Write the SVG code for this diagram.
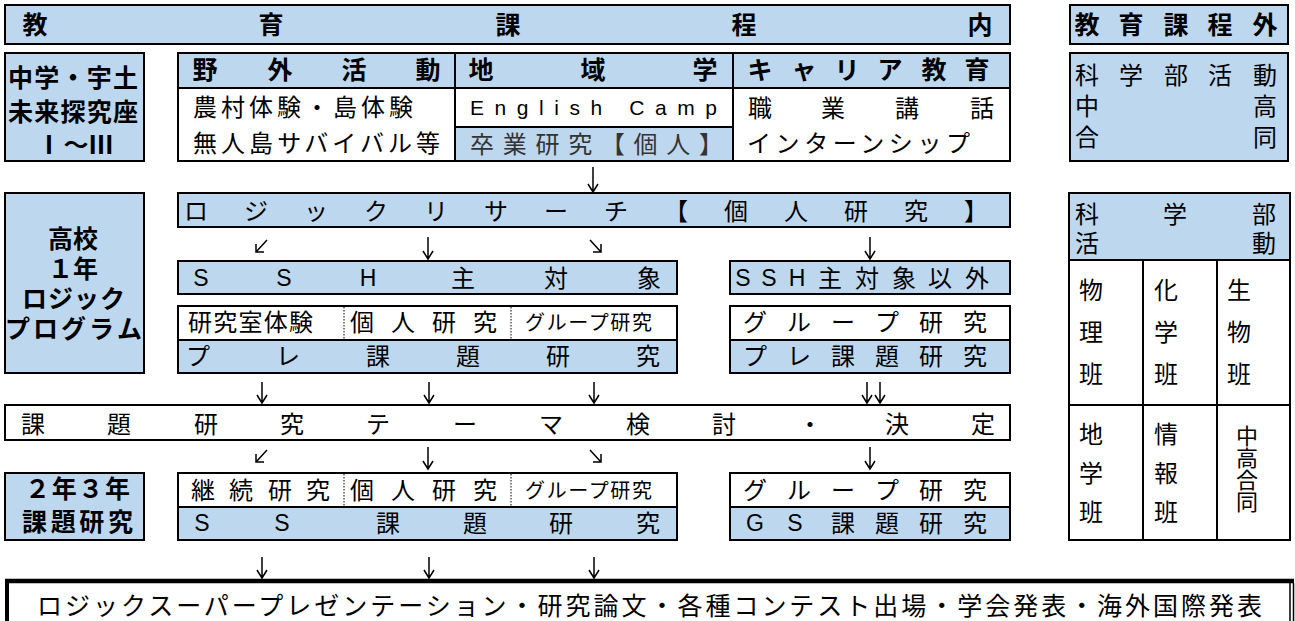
<svg xmlns="http://www.w3.org/2000/svg" width="1295" height="621" viewBox="0 0 1295 621">
<style>
.bl{fill:#BDD7EE}
.b{fill:#BDD7EE;stroke:#000;stroke-width:2}
.w{fill:#fff;stroke:#000;stroke-width:2}
.bx{fill:none;stroke:#000;stroke-width:2}
.ln{fill:none;stroke:#000;stroke-width:2}
.dt{fill:none;stroke:#000;stroke-width:1;stroke-dasharray:1.5 1.5}
text{font-family:"Liberation Sans","Noto Sans CJK JP","Noto Sans CJK SC",sans-serif;fill:#000}
.g{font-weight:700;font-size:25px}
.m{font-weight:400;font-size:24px}
.s{font-weight:400;font-size:20px}
.c{text-anchor:middle}
.la{font-family:"Liberation Sans",Arial,sans-serif;font-size:23px;font-weight:400}
.ar{fill:none;stroke:#000;stroke-width:1.5}
</style>
<rect width="1295" height="621" fill="#fff"/>

<g id="kyoiku-katei-nai">
<rect x="5" y="5" width="1005" height="39" class="b"/>
<text class="g c" x="35 271 508 744 980" y="34">教育課程内</text>
</g>

<g id="kyoiku-katei-gai">
<rect x="1070" y="5" width="218" height="39" class="b"/>
<text class="g c" x="1087 1131 1176 1220 1265" y="34">教育課程外</text>
</g>

<g id="chugaku-uto">
<rect x="5" y="53" width="139" height="108" class="b"/>
<text class="g c"><tspan x="20.5 46.8 73 99.3 125.5" y="87">中学・宇土</tspan><tspan x="20.5 46.8 73 99.3 125.5" y="121">未来探究座</tspan><tspan x="49 76 101" y="154">Ⅰ～Ⅲ</tspan></text>
</g>

<g id="yagai-chiiki-career">
<rect x="178" y="53" width="832" height="108" class="w"/>
<rect x="179" y="54" width="830" height="34" class="bl"/>
<rect x="455" y="127" width="278" height="33" class="bl"/>
<path class="ln" d="M178 88H1010M455 53V161M733 53V161M455 127H733"/>
<rect x="178" y="53" width="832" height="108" class="bx"/>
<text class="g c" x="205 280 354 428" y="79">野外活動</text>
<text class="g c" x="481 593 705" y="79">地域学</text>
<text class="g c" x="760 804 847 890 934 977" y="79">キャリア教育</text>
<text class="m" x="193" y="116" textLength="220" lengthAdjust="spacing">農村体験・島体験</text>
<text class="m" x="193" y="152" textLength="247" lengthAdjust="spacing">無人島サバイバル等</text>
<text class="la" x="470" y="115" textLength="247" lengthAdjust="spacing" style="font-size:21px">English Camp</text>
<text class="m" x="470" y="153" textLength="253" lengthAdjust="spacing" style="fill:#333">卒業研究【個人】</text>
<text class="m c" x="760 833 907 982" y="117">職業講話</text>
<text class="m" x="747" y="152" textLength="223" lengthAdjust="spacing">インターンシップ</text>
</g>

<g id="kagakubu-katsudo-1">
<rect x="1070" y="53" width="218" height="108" class="b"/>
<text class="m c"><tspan x="1087 1131 1176 1220 1265" y="84">科学部活動</tspan><tspan x="1087 1265" y="115">中高</tspan><tspan x="1087 1265" y="146">合同</tspan></text>
</g>

<g id="koko-1nen">
<rect x="5" y="193" width="139" height="180" class="b"/>
<text class="g c"><tspan x="73" y="248">高校</tspan><tspan x="73" y="278">１年</tspan><tspan x="34.5 60.5 86.5 112.5" y="308">ロジック</tspan><tspan x="17.5 45.5 73.5 101.5 129.5" y="338">プログラム</tspan></text>
</g>

<g id="logic-research">
<rect x="178" y="193" width="832" height="34" class="b"/>
<text class="m c" x="196 256 316 376 436 496 556 616 676 736 796 856 916 976" y="220">ロジックリサーチ【個人研究】</text>
</g>

<g id="ssh-main">
<rect x="178" y="261" width="499" height="33" class="b"/>
<text class="la c" x="201 284 368" y="286">SSH</text>
<text class="m c" x="463 556 649" y="287">主対象</text>
</g>

<g id="ssh-other">
<rect x="730" y="261" width="280" height="33" class="b"/>
<text class="la c" x="743 769 797" y="286">SSH</text>
<text class="m c" x="830 867 904 940 977" y="287">主対象以外</text>
</g>

<g id="pre-kadai-ssh">
<rect x="178" y="306" width="499" height="67" class="w"/>
<rect x="179" y="340" width="497" height="32" class="bl"/>
<path class="ln" d="M178 340H677"/>
<path class="dt" d="M344 307V340M511 307V340"/>
<rect x="178" y="306" width="499" height="67" class="bx"/>
<text class="m" x="188" y="331" textLength="125" lengthAdjust="spacing">研究室体験</text>
<text class="m c" x="362 403 444 485" y="331">個人研究</text>
<text class="s" x="525" y="330" textLength="127" lengthAdjust="spacing">グループ研究</text>
<text class="m c" x="198 288 378 468 558 648" y="365">プレ課題研究</text>
</g>

<g id="pre-kadai-group">
<rect x="730" y="306" width="280" height="67" class="w"/>
<rect x="731" y="340" width="278" height="32" class="bl"/>
<path class="ln" d="M730 340H1010"/>
<rect x="730" y="306" width="280" height="67" class="bx"/>
<text class="m c" x="755 799 843 887 931 975" y="331">グループ研究</text>
<text class="m c" x="755 799 843 887 931 975" y="365">プレ課題研究</text>
</g>

<g id="theme-kettei">
<rect x="5" y="405" width="1005" height="35" class="w"/>
<text class="m c" x="33 119 206 292 378 465 551 638 724 810 897 983" y="433">課題研究テーマ検討・決定</text>
</g>

<g id="nen23">
<rect x="5" y="473" width="139" height="67" class="b"/>
<text class="g c"><tspan x="37.5 64.2 90.8 117.5" y="498">２年３年</tspan><tspan x="34.5 63.2 91.8 120.5" y="531">課題研究</tspan></text>
</g>

<g id="ss-kadai">
<rect x="178" y="473" width="499" height="67" class="w"/>
<rect x="179" y="507" width="497" height="32" class="bl"/>
<path class="ln" d="M178 507H677"/>
<path class="dt" d="M344 474V507M511 474V507"/>
<rect x="178" y="473" width="499" height="67" class="bx"/>
<text class="m c" x="203 241 280 318" y="499">継続研究</text>
<text class="m c" x="362 403 444 485" y="499">個人研究</text>
<text class="s" x="525" y="498" textLength="127" lengthAdjust="spacing">グループ研究</text>
<text class="la c" x="202 282" y="531">SS</text>
<text class="m c" x="388 475 561 648" y="532">課題研究</text>
</g>

<g id="gs-kadai">
<rect x="730" y="473" width="280" height="67" class="w"/>
<rect x="731" y="507" width="278" height="32" class="bl"/>
<path class="ln" d="M730 507H1010"/>
<rect x="730" y="473" width="280" height="67" class="bx"/>
<text class="m c" x="755 799 843 887 931 975" y="499">グループ研究</text>
<text class="la c" x="755 795" y="531">GS</text>
<text class="m c" x="843 887 931 975" y="532">課題研究</text>
</g>

<g id="kagakubu-katsudo-2">
<rect x="1069" y="193" width="221" height="347" class="w"/>
<rect x="1070" y="194" width="219" height="66" class="bl"/>
<path class="ln" d="M1069 260H1290M1143 260V540M1217 260V540M1069 405H1290"/>
<rect x="1069" y="193" width="221" height="347" class="bx"/>
<text class="m c"><tspan x="1087 1175 1264" y="223">科学部</tspan><tspan x="1087 1264" y="252">活動</tspan></text>
<text class="m c"><tspan x="1091" y="299">物</tspan><tspan x="1091" y="341">理</tspan><tspan x="1091" y="383">班</tspan></text>
<text class="m c"><tspan x="1166" y="299">化</tspan><tspan x="1166" y="341">学</tspan><tspan x="1166" y="383">班</tspan></text>
<text class="m c"><tspan x="1239" y="299">生</tspan><tspan x="1239" y="341">物</tspan><tspan x="1239" y="383">班</tspan></text>
<text class="m c"><tspan x="1091" y="443">地</tspan><tspan x="1091" y="482">学</tspan><tspan x="1091" y="521">班</tspan></text>
<text class="m c"><tspan x="1166" y="443">情</tspan><tspan x="1166" y="482">報</tspan><tspan x="1166" y="521">班</tspan></text>
<text class="m c" x="1247" y="469" style="font-family:'Noto Sans CJK JP',sans-serif;font-size:22px;writing-mode:vertical-rl">中高合同</text>
</g>

<g id="happyo">
<path d="M5 581H1294" stroke="#000" stroke-width="4.5"/>
<path d="M7 579V621" stroke="#000" stroke-width="4"/>
<path d="M1290 583V621M1293.5 583V621" stroke="#000" stroke-width="1.5"/>
<text class="m" x="37" y="615" textLength="1225" lengthAdjust="spacing" style="font-size:25px">ロジックスーパープレゼンテーション・研究論文・各種コンテスト出場・学会発表・海外国際発表</text>
</g>

<g id="connectors" class="ar">
<path d="M593 167V192M588 184L593 192L598 184"/>
<path d="M267 240L256 252M256 244V252H264"/>
<path d="M428 237V259M423 251L428 259L433 251"/>
<path d="M590 240L601 252M601 244V252H593"/>
<path d="M870 237V259M865 251L870 259L875 251"/>
<path d="M262 382V403M257 395L262 403L267 395"/>
<path d="M429 382V403M424 395L429 403L434 395"/>
<path d="M594 382V403M589 395L594 403L599 395"/>
<path d="M867 382V403M862 395L867 403L872 395"/>
<path d="M880 382V403M875 395L880 403L885 395"/>
<path d="M267 450L256 462M256 454V462H264"/>
<path d="M428 447V469M423 461L428 469L433 461"/>
<path d="M590 450L601 462M601 454V462H593"/>
<path d="M870 447V469M865 461L870 469L875 461"/>
<path d="M262 557V578M257 570L262 578L267 570"/>
<path d="M429 557V578M424 570L429 578L434 570"/>
<path d="M594 557V578M589 570L594 578L599 570"/>
</g>
</svg>
